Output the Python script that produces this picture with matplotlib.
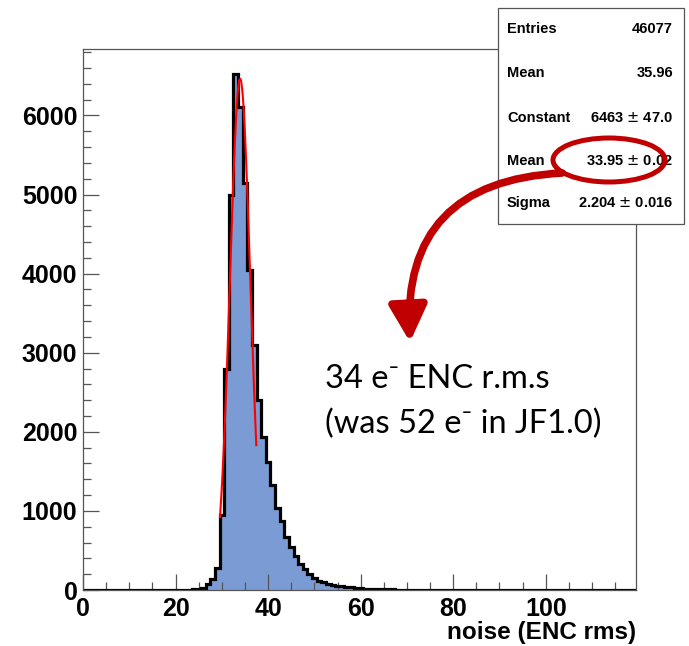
import numpy as np
import matplotlib
matplotlib.use("Agg")
import matplotlib.pyplot as plt
from matplotlib.patches import Rectangle, Ellipse, FancyArrowPatch, ArrowStyle
from matplotlib.ticker import MultipleLocator

# ---- data ----
bin_start = 0          # first bin centre
counts = [0, 0, 0, 0, 0, 0, 0, 0, 0, 0,
          0, 0, 0, 0, 0, 0, 0, 0, 0, 0,
          0, 0, 3, 5, 8, 10, 22, 75, 135, 280,
          950, 2800, 5000, 6530, 6110, 5150, 4050, 3100, 2400, 1930,
          1620, 1330, 1040, 870, 670, 540, 430, 330, 260, 200,
          150, 115, 95, 80, 65, 55, 45, 38, 32, 27,
          22, 18, 15, 12, 10, 9, 8, 7, 6, 5,
          5, 4, 4, 3, 3, 3, 3, 2, 2, 2,
          2, 2, 2, 1, 1, 1, 1, 1, 1, 1,
          1, 1, 1, 1, 1, 1, 1, 1, 1, 1,
          1, 1, 1, 1, 1, 1, 1, 1, 1, 1,
          1, 1, 1, 1, 1, 1, 1, 1, 1, 1]
fit_constant = 6463
fit_mean = 33.95
fit_sigma = 2.204
fit_range = (29.6, 37.45)

stats_labels = ["Entries", "Mean", "Constant", "Mean", "Sigma"]
stats_values = ["46077", "35.96", "6463 $\\pm$ 47.0", "33.95 $\\pm$ 0.02", "2.204 $\\pm$ 0.016"]

annot_line1 = "34 e\u207b ENC r.m.s"
annot_line2 = "(was 52 e\u207b in JF1.0)"

xlabel = "noise (ENC rms)"

# ---- figure ----
W, H = 689, 646
fig = plt.figure(figsize=(W / 100, H / 100), dpi=100)
ax = fig.add_axes([83 / W, 1 - 590 / H, (636 - 83) / W, (590 - 49) / H])

counts = np.array(counts, dtype=float)
edges = bin_start - 0.5 + np.arange(len(counts) + 1)
ax.stairs(counts, edges, fill=True, color="#7a9bd3", zorder=1)
ax.stairs(counts, edges, color="black", lw=2.3, zorder=2)

xf = np.linspace(fit_range[0], fit_range[1], 300)
yf = fit_constant * np.exp(-0.5 * ((xf - fit_mean) / fit_sigma) ** 2)
ax.plot(xf, yf, color="red", lw=1.5, zorder=3)

ax.set_xlim(0, 119.5)
ax.set_ylim(0, 6840)
ax.xaxis.set_major_locator(MultipleLocator(20))
ax.xaxis.set_minor_locator(MultipleLocator(5))
ax.yaxis.set_major_locator(MultipleLocator(1000))
ax.yaxis.set_minor_locator(MultipleLocator(200))
ax.tick_params(which="both", direction="in", top=False, right=False,
               color="#555555", width=0.9)
ax.tick_params(which="major", length=11.5, labelsize=18)
ax.tick_params(which="minor", length=5.8)
ax.tick_params(axis="x", pad=5)
ax.tick_params(axis="y", pad=4)
for lab in ax.get_xticklabels() + ax.get_yticklabels():
    lab.set_fontweight("bold")
    lab.set_family("Liberation Sans")
for s in ax.spines.values():
    s.set_color("#555555")
    s.set_linewidth(0.9)
ax.set_xlabel(xlabel, fontsize=17.5, fontweight="bold", family="Liberation Sans",
              loc="right", labelpad=0)

# ---- overlay in pixel coordinates ----
ov = fig.add_axes([0, 0, 1, 1], zorder=5)
ov.set_xlim(0, W)
ov.set_ylim(H, 0)
ov.axis("off")
ov.patch.set_alpha(0)

ov.add_patch(Rectangle((498, 8), 186, 216, facecolor="white",
                       edgecolor="#555555", lw=0.9, zorder=1))
row_y = [29, 73, 118, 161, 203]
for lab, val, y in zip(stats_labels, stats_values, row_y):
    ov.text(507, y, lab, ha="left", va="center", fontsize=10.5,
            fontweight="bold", family="Liberation Sans", zorder=2)
    ov.text(673, y, val, ha="right", va="center", fontsize=10.5,
            fontweight="bold", family="Liberation Sans", zorder=2)

ov.add_patch(Ellipse((609, 160), 112, 44, facecolor="none",
                     edgecolor="#c00000", lw=3.6, zorder=3))
arr = FancyArrowPatch((562, 173), (410, 342),
                      connectionstyle="arc3,rad=0.5",
                      arrowstyle=ArrowStyle("-|>", head_length=22, head_width=11.5),
                      mutation_scale=1, color="#c00000", lw=5.5,
                      shrinkA=0, shrinkB=0, zorder=3)
ov.add_patch(arr)

ov.text(325, 388, annot_line1, ha="left", va="baseline", fontsize=23.5,
        family=["Lato", "DejaVu Sans"])
ov.text(325, 433, annot_line2, ha="left", va="baseline", fontsize=23.5,
        family=["Lato", "DejaVu Sans"])

fig.savefig("out.png", dpi=100)
